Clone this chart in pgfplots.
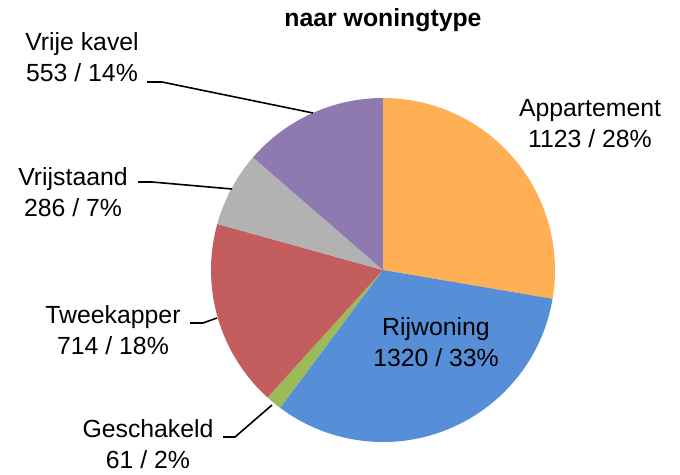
\documentclass[border=0pt]{standalone}
\usepackage{pgfplots}
\usepackage{pgfplotstable}
\pgfplotsset{compat=1.18}
\usepackage{fontspec}
\setmainfont{Liberation Sans}

\definecolor{appcol}{HTML}{FFB055}
\definecolor{rijcol}{HTML}{568FD7}
\definecolor{gescol}{HTML}{9BBB59}
\definecolor{twecol}{HTML}{C45E5E}
\definecolor{vrscol}{HTML}{B2B2B2}
\definecolor{vrkcol}{HTML}{8E79B0}

% slices clockwise from 12 o'clock; lx/ly = label centre
\pgfplotstableread[col sep=comma]{
name,value,color,lx,ly
Appartement,1123,appcol,590,351.5
Rijwoning,1320,rijcol,436,133
Geschakeld,61,gescol,148,31
Tweekapper,714,twecol,113,144.5
Vrijstaand,286,vrscol,73,282.5
Vrije kavel,553,vrkcol,82,418
}\pietable

\begin{document}
\begin{tikzpicture}[font=\fontsize{24.8bp}{31bp}\selectfont]
\useasboundingbox (0,0) rectangle (680bp,475bp);
\xdef\total{0}
\pgfplotsinvokeforeach{0,...,5}{%
  \pgfplotstablegetelem{#1}{value}\of\pietable
  \pgfmathsetmacro\tmp{\total+\pgfplotsretval}%
  \xdef\total{\tmp}%
}
\begin{axis}[x=1bp, y=1bp, xmin=0, xmax=680, ymin=0, ymax=475,
    hide axis, clip=false]
\xdef\cum{90}
\pgfplotsinvokeforeach{0,...,5}{%
  \pgfplotstablegetelem{#1}{value}\of\pietable\let\sliceval\pgfplotsretval
  \pgfplotstablegetelem{#1}{color}\of\pietable\let\slicecol\pgfplotsretval
  \pgfmathsetmacro\endA{\cum-360*(\sliceval/\total)}%
  \edef\doit{\noexpand\fill[\slicecol] (383,205) -- ++(\cum:172bp)
    arc[start angle=\cum, end angle=\endA, radius=172bp] -- cycle;}%
  \doit
  \xdef\cum{\endA}%
}
\pgfplotsinvokeforeach{0,...,5}{%
  \pgfplotstablegetelem{#1}{value}\of\pietable\let\sliceval\pgfplotsretval
  \pgfplotstablegetelem{#1}{name}\of\pietable\let\slicename\pgfplotsretval
  \pgfplotstablegetelem{#1}{lx}\of\pietable\let\lx\pgfplotsretval
  \pgfplotstablegetelem{#1}{ly}\of\pietable\let\ly\pgfplotsretval
  \pgfmathtruncatemacro\pct{round(100*(\sliceval/\total))}%
  \edef\doit{\noexpand\node[align=center] at (\lx,\ly)
    {\slicename\noexpand\\\sliceval\space/\space\pct\noexpand\%};}%
  \doit
}
% leader lines
\draw[line width=1.6bp] (147,393) -- (162,393) -- (313,362);
\draw[line width=1.6bp] (138,293) -- (152,293) -- (232,286);
\draw[line width=1.6bp] (190,152) -- (203,152) -- (217,157);
\draw[line width=1.6bp] (223,38) -- (235,38) -- (272,70);
\node[font=\fontsize{24.8bp}{31bp}\selectfont\bfseries] at (383,455) {naar woningtype};
\end{axis}
\end{tikzpicture}
\end{document}
